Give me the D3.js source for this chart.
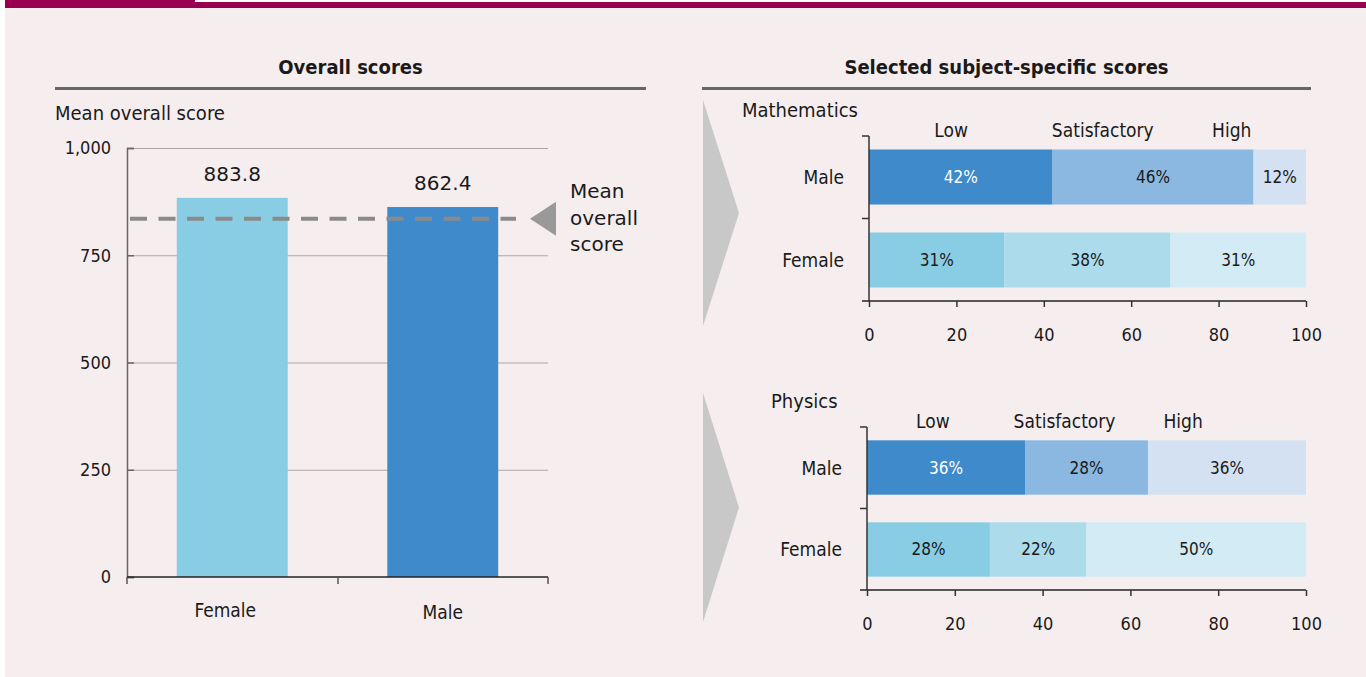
<!DOCTYPE html>
<html>
<head>
<meta charset="utf-8">
<script src="https://cdn.jsdelivr.net/npm/d3@7"></script>
<style>
  body { margin: 0; background: #fff; }
  svg text { font-family: "DejaVu Sans Condensed", "DejaVu Sans", sans-serif; font-stretch: condensed; fill: #1a1a1a; }
  svg text.wide { font-family: "DejaVu Sans", sans-serif; font-stretch: normal; }
</style>
</head>
<body>
<svg id="chart"></svg>
<script>
var width = 1366;
var height = 677;

// data
var genders = ["Female", "Male"];
var overallScores = [883.8, 862.4];
var meanOverall = 835;
var scoreTicks = [0, 250, 500, 750, 1000];

var levels = ["Low", "Satisfactory", "High"];
var groups = ["Male", "Female"];
var mathMale = [42, 46, 12];
var mathFemale = [31, 38, 31];
var physMale = [36, 28, 36];
var physFemale = [28, 22, 50];
var pctTicks = [0, 20, 40, 60, 80, 100];

// colours
var femaleColor = "#89cde5";
var maleColor = "#3e8acb";
var maleShades = ["#3e8acb", "#8ab8e0", "#d4e1f2"];
var femaleShades = ["#89cde5", "#acdcec", "#d3ebf5"];

var svg = d3.select("#chart").attr("width", width).attr("height", height);

// background + top strip
svg.append("rect").attr("width", width).attr("height", height).attr("fill", "#fff");
svg.append("rect").attr("x", 5).attr("y", 8).attr("width", width - 5).attr("height", height - 8).attr("fill", "#f6eeee");
svg.append("rect").attr("x", 5).attr("y", 0).attr("width", 190).attr("height", 8).attr("fill", "#990050");
svg.append("rect").attr("x", 195).attr("y", 2).attr("width", width - 195).attr("height", 6).attr("fill", "#990050");

// panel titles
function panelTitle(text, x0, x1) {
	svg.append("text").attr("x", (x0 + x1) / 2).attr("y", 74)
		.attr("text-anchor", "middle").attr("font-weight", "bold").attr("font-size", 20).text(text);
	svg.append("line").attr("x1", x0).attr("x2", x1).attr("y1", 88.5).attr("y2", 88.5)
		.attr("stroke", "#666").attr("stroke-width", 3);
}
panelTitle("Overall scores", 55, 646);
panelTitle("Selected subject-specific scores", 702, 1311);

// ---- left: overall scores ----
var x = d3.scaleBand().domain(genders).range([127, 548]).paddingInner(0.473).paddingOuter(0.2365);
var y = d3.scaleLinear().domain([0, 1000]).range([577, 148]);

svg.append("text").attr("x", 55).attr("y", 120).attr("font-size", 20).text("Mean overall score");

svg.append("g").selectAll("line").data(scoreTicks.filter(d => d > 0)).join("line")
	.attr("x1", 127).attr("x2", 548)
	.attr("y1", d => y(d) + 0.5).attr("y2", d => y(d) + 0.5)
	.attr("stroke", "#a8a8a8").attr("stroke-width", 1.2);

var yAxis = svg.append("g").attr("transform", "translate(127,0)")
	.call(d3.axisLeft(y).tickValues(scoreTicks).tickSize(-7).tickPadding(16).tickFormat(d3.format(",")));
yAxis.select(".domain").attr("stroke", "#666").attr("stroke-width", 1.5);
yAxis.selectAll(".tick line").attr("stroke", "#666").attr("stroke-width", 1.5);
yAxis.selectAll("text").attr("font-size", 18).attr("font-family", null).attr("fill", "#1a1a1a");

svg.append("g").selectAll("rect").data(genders).join("rect")
	.attr("x", d => x(d)).attr("width", x.bandwidth())
	.attr("y", (d, i) => y(overallScores[i]))
	.attr("height", (d, i) => y(0) - y(overallScores[i]))
	.attr("fill", (d, i) => i == 0 ? femaleColor : maleColor);

svg.append("g").selectAll("text").data(genders).join("text")
	.attr("class", "wide")
	.attr("x", d => x(d) + x.bandwidth() / 2)
	.attr("y", (d, i) => y(overallScores[i]) - 17)
	.attr("text-anchor", "middle").attr("font-size", 20)
	.text((d, i) => overallScores[i].toFixed(1));

// bottom axis with boundary ticks
svg.append("line").attr("x1", 127).attr("x2", 548).attr("y1", 577).attr("y2", 577)
	.attr("stroke", "#222").attr("stroke-width", 1.5);
svg.append("g").selectAll("line").data([127, 338, 548]).join("line")
	.attr("x1", d => d).attr("x2", d => d).attr("y1", 577).attr("y2", 584)
	.attr("stroke", "#555").attr("stroke-width", 1.5);
svg.append("g").selectAll("text").data(genders).join("text")
	.attr("x", d => x(d) + x.bandwidth() / 2 - (d == "Female" ? 7 : 0))
	.attr("y", (d, i) => 617 + i * 2)
	.attr("text-anchor", "middle").attr("font-size", 19).text(d => d);

// mean line + marker
svg.append("line").attr("x1", 130).attr("x2", 516)
	.attr("y1", y(meanOverall)).attr("y2", y(meanOverall))
	.attr("stroke", "#8a8a8a").attr("stroke-width", 4).attr("stroke-dasharray", "17,11.5");
svg.append("path")
	.attr("d", "M530," + y(meanOverall) + "L556," + (y(meanOverall) - 17) + "L556," + (y(meanOverall) + 17) + "Z")
	.attr("fill", "#999");
var meanText = svg.append("text").attr("class", "wide").attr("font-size", 20);
["Mean", "overall", "score"].forEach(function(w, i) {
	meanText.append("tspan").attr("x", 570).attr("y", 198 + i * 26.5).text(w);
});

// ---- right: subject bars ----
var px = d3.scaleLinear().domain([0, 100]);

function subjectChart(name, male, female, opts) {
	var sx = px.copy().range([opts.x0, 1306]);
	var sy = d3.scaleBand().domain(groups).range([opts.top, opts.bottom]).paddingInner(0.337).paddingOuter(0.1625);
	var g = svg.append("g");

	// chevron
	g.append("path")
		.attr("d", "M703," + opts.chevTop + "L739," + (opts.chevTop + opts.chevBot) / 2 + "L703," + opts.chevBot + "Z")
		.attr("fill", "#c8c8c8");

	g.append("text").attr("x", opts.nameX).attr("y", opts.top - 19).attr("font-size", 20).text(name);

	g.selectAll("text.level").data(levels).join("text")
		.attr("class", "level")
		.attr("x", (d, i) => sx(opts.headers[i]))
		.attr("y", opts.top + 1).attr("text-anchor", "middle").attr("font-size", 19).text(d => d);

	var rows = [male, female];
	groups.forEach(function(grp, r) {
		var vals = rows[r];
		var starts = d3.cumsum([0].concat(vals)).slice(0, vals.length);
		var shades = r == 0 ? maleShades : femaleShades;
		g.selectAll("rect.r" + r).data(vals).join("rect")
			.attr("class", "r" + r)
			.attr("x", (d, i) => sx(starts[i])).attr("width", d => sx(d) - sx(0))
			.attr("y", sy(grp)).attr("height", sy.bandwidth())
			.attr("fill", (d, i) => shades[i]);
		g.selectAll("text.p" + r).data(vals).join("text")
			.attr("class", "p" + r)
			.attr("x", (d, i) => sx(starts[i] + d / 2))
			.attr("y", sy(grp) + sy.bandwidth() / 2 + 6)
			.attr("text-anchor", "middle").attr("font-size", 17)
			.style("fill", (d, i) => (r == 0 && i == 0) ? "#fff" : "#1a1a1a")
			.text(d => d + "%");
		g.append("text").attr("x", opts.x0 - 25).attr("y", sy(grp) + sy.bandwidth() / 2 + 7)
			.attr("text-anchor", "end").attr("font-size", 19).text(grp);
	});

	// y axis with boundary ticks
	g.append("line").attr("x1", opts.x0).attr("x2", opts.x0).attr("y1", opts.top).attr("y2", opts.bottom)
		.attr("stroke", "#333").attr("stroke-width", 1.5);
	g.selectAll("line.yt").data([opts.top, (sy("Male") + sy.bandwidth() + sy("Female")) / 2]).join("line")
		.attr("class", "yt")
		.attr("x1", opts.x0 - 7).attr("x2", opts.x0).attr("y1", d => d).attr("y2", d => d)
		.attr("stroke", "#333").attr("stroke-width", 1.5);

	var xa = g.append("g").attr("transform", "translate(0," + opts.bottom + ")")
		.call(d3.axisBottom(sx).tickValues(pctTicks).tickSize(6).tickPadding(21).tickSizeOuter(0));
	xa.select(".domain").attr("stroke", "#222").attr("stroke-width", 1.5)
		.attr("d", "M" + (opts.x0 - 7) + ",0H1306");
	xa.selectAll(".tick line").attr("stroke", "#333").attr("stroke-width", 1.5);
	xa.selectAll("text").attr("font-size", 18).attr("font-family", null).attr("fill", "#1a1a1a");
}

subjectChart("Mathematics", mathMale, mathFemale, {
	x0: 869, top: 136, bottom: 301, nameX: 742, chevTop: 100, chevBot: 326,
	headers: [18.8, 53.5, 83]
});
subjectChart("Physics", physMale, physFemale, {
	x0: 867, top: 427, bottom: 590, nameX: 771, chevTop: 393, chevBot: 622,
	headers: [15, 45, 72]
});
</script>
</body>
</html>
